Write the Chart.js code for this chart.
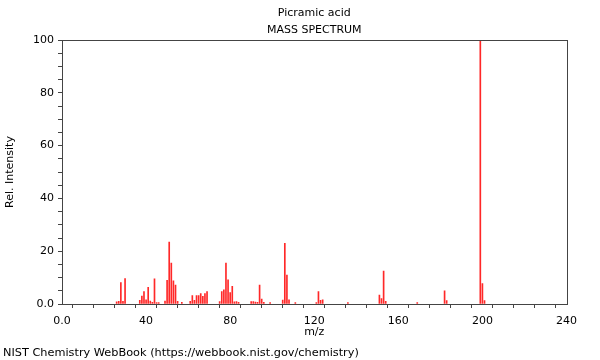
<!DOCTYPE html>
<html>
<head>
<meta charset="utf-8">
<script src="https://cdn.jsdelivr.net/npm/chart.js@4/dist/chart.umd.min.js"></script>
<style>
  html, body { margin: 0; padding: 0; background: #fff; }
  #wrap { position: relative; width: 600px; height: 360px; }
  #footer { position: absolute; left: 3px; top: 346px; font: 11.3px "DejaVu Sans", sans-serif; color: #000; white-space: nowrap; }
</style>
</head>
<body>
<div id="wrap">
  <canvas id="ms" width="600" height="360"></canvas>
  <div id="footer">NIST Chemistry WebBook (https://webbook.nist.gov/chemistry)</div>
</div>
<script>
// 피크 위치(m/z)와 상대 강도(%) — 그림에서 읽은 값
const mzValues = [26, 27, 28, 29, 30, 37, 38, 39, 40, 41, 42, 43, 44, 45, 46, 49, 50, 51, 52, 53,
  54, 55, 57, 61, 62, 63, 64, 65, 66, 67, 68, 69, 75, 76, 77, 78, 79, 80, 81, 82,
  83, 84, 90, 91, 92, 93, 94, 95, 96, 99, 105, 106, 107, 108, 111, 121, 122, 123, 124, 136,
  151, 152, 153, 154, 169, 182, 183, 199, 200, 201];
const intensities = [0.8, 1, 8.1, 1, 9.6, 1.4, 3, 4.7, 1.6, 6.3, 1.1, 0.6, 9.5, 0.5, 0.5, 1.1, 9, 23.5, 15.5, 8.8,
  7.2, 1, 0.6, 1, 3.2, 1.4, 3.2, 3.2, 3.9, 2.9, 3.9, 4.7, 0.9, 4.7, 5.4, 15.5, 9.2, 4.3, 6.7, 0.8,
  0.9, 0.6, 0.9, 0.9, 0.7, 0.6, 7.2, 1.9, 0.6, 0.5, 1.5, 23, 11, 1.6, 0.5, 0.5, 4.7, 1.4, 1.6, 0.5,
  3.4, 2.1, 12.5, 1, 0.5, 5, 1.3, 100, 7.7, 1.3];

const titleLines = ["Picramic acid", "MASS SPECTRUM"];
const xTicks = [0, 10, 20, 30, 40, 50, 60, 70, 80, 90, 100, 110, 120, 130, 140, 150, 160, 170, 180, 190, 200, 210, 220, 230, 240];
const xLabels = ["0.0", "", "", "", "40", "", "", "", "80", "", "", "", "120", "", "", "", "160", "", "", "", "200", "", "", "", "240"];
const yTicks = [0, 5, 10, 15, 20, 25, 30, 35, 40, 45, 50, 55, 60, 65, 70, 75, 80, 85, 90, 95, 100];
const yLabels = ["0.0", "", "", "", "20", "", "", "", "40", "", "", "", "60", "", "", "", "80", "", "", "", "100"];

const AXIS = "#444";
Chart.defaults.font.family = "'DejaVu Sans', sans-serif";
Chart.defaults.font.size = 11;
Chart.defaults.color = "#000";

// 위·오른쪽까지 닫힌 틀
const frame = {
  id: "frame",
  afterDraw(chart) {
    const a = chart.chartArea, ctx = chart.ctx;
    ctx.save();
    ctx.strokeStyle = AXIS;
    ctx.lineWidth = 1;
    ctx.strokeRect(Math.round(a.left) + 0.5, Math.round(a.top) + 0.5,
      Math.round(a.right - a.left), Math.round(a.bottom - a.top));
    ctx.restore();
  },
};

new Chart(document.getElementById("ms"), {
  type: "bar",
  data: {
    datasets: [{
      data: mzValues.map((m, i) => ({ x: m, y: intensities[i] })),
      backgroundColor: "rgb(255,40,40)",
      barThickness: 1,
      grouped: false,
    }],
  },
  options: {
    responsive: false,
    animation: false,
    layout: { padding: { left: 0, right: 33.5, top: 0, bottom: 17.4 } },
    plugins: {
      legend: { display: false },
      tooltip: { enabled: false },
      title: {
        display: true, text: titleLines, fullSize: false,
        font: { size: 11, weight: "normal", lineHeight: 17 / 11 },
        padding: { top: 4.5, bottom: 1.5 },
      },
    },
    scales: {
      x: {
        type: "linear", min: 0, max: 240, offset: false,
        afterBuildTicks: (s) => { s.ticks = xTicks.map((v) => ({ value: v })); },
        afterFit: (s) => { s.height = 38.6; },
        ticks: { autoSkip: false, maxRotation: 0, padding: 7,
          callback: (v) => xLabels[xTicks.indexOf(v)] },
        grid: { drawOnChartArea: false, tickLength: 4, color: AXIS },
        border: { color: AXIS },
        title: { display: true, text: "m/z", padding: { top: 4, bottom: 4 } },
      },
      y: {
        min: 0, max: 100,
        afterBuildTicks: (s) => { s.ticks = yTicks.map((v) => ({ value: v })); },
        afterFit: (s) => { s.width = 62; },
        ticks: { autoSkip: false, padding: 4,
          callback: (v) => yLabels[yTicks.indexOf(v)] },
        grid: { drawOnChartArea: false, tickLength: 4, color: AXIS },
        border: { color: AXIS },
        title: { display: true, text: "Rel. Intensity", padding: { top: 4, bottom: 4 } },
      },
    },
  },
  plugins: [frame],
});
</script>
</body>
</html>
